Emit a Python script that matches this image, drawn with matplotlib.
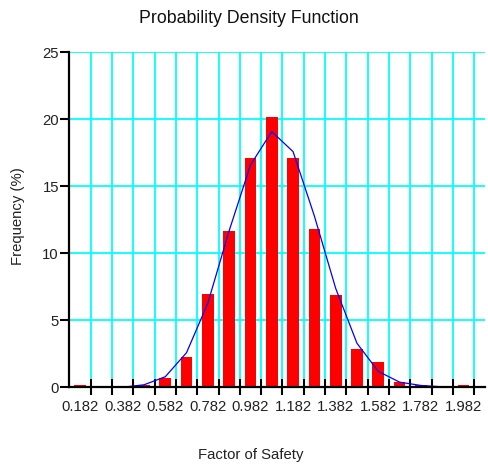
import numpy as np
import matplotlib.pyplot as plt
from matplotlib.ticker import FixedLocator

plt.rcParams['font.family'] = ['Liberation Sans', 'DejaVu Sans']

# histogram bins (centres) and frequencies in percent
bin_centers = [0.182, 0.282, 0.382, 0.482, 0.582, 0.682, 0.782, 0.882, 0.982, 1.082,
               1.182, 1.282, 1.382, 1.482, 1.582, 1.682, 1.782, 1.882, 1.982]
frequency = [0.15, 0.0, 0.0, 0.2, 0.7, 2.25, 6.95, 11.65, 17.1, 20.15,
             17.1, 11.85, 6.9, 2.9, 1.9, 0.43, 0.17, 0.0, 0.15]

# fitted density curve
curve_x = bin_centers + [2.082]
curve_y = [0.0, 0.0, 0.02, 0.2, 0.8, 2.6, 6.3, 11.7, 16.6, 19.1,
           17.6, 12.8, 7.4, 3.3, 1.2, 0.4, 0.15, 0.05, 0.02, 0.0]

x_labels = ["0.182", "0.382", "0.582", "0.782", "0.982",
            "1.182", "1.382", "1.582", "1.782", "1.982"]
bin_edges = [0.232, 0.332, 0.432, 0.532, 0.632, 0.732, 0.832, 0.932, 1.032, 1.132,
             1.232, 1.332, 1.432, 1.532, 1.632, 1.732, 1.832, 1.932, 2.032]

fig = plt.figure(figsize=(4.89, 4.65), dpi=100)
ax = fig.add_axes([0.1419, 0.1667, 0.8495, 0.7204])

ax.bar(bin_centers, frequency, width=0.055, color='#ff0000', zorder=2)
ax.plot(curve_x, curve_y, color='#0000ff', lw=0.9, zorder=3)

ax.set_xlim(0.132, 2.082)
ax.set_ylim(0, 25)

ax.set_xticks([float(s) for s in x_labels])
ax.set_xticklabels(x_labels)
ax.xaxis.set_minor_locator(FixedLocator(bin_edges))
ax.set_yticks([0, 5, 10, 15, 20, 25])

ax.grid(False)
ax.grid(True, which='minor', axis='x', color='#00ffff', lw=1.3, zorder=0)
ax.grid(True, which='major', axis='y', color='#00ffff', lw=1.3, zorder=0)
ax.set_axisbelow(True)

ax.tick_params(axis='x', which='major', length=0, pad=9, labelsize=10.7, colors='#222222')
ax.tick_params(axis='x', which='minor', direction='inout', length=11.5, width=1.5, color='black')
ax.tick_params(axis='y', which='major', direction='out', length=6.5, width=1.5,
               pad=1, labelsize=10.7, labelcolor='#222222', color='black')

for side in ['top', 'right']:
    ax.spines[side].set_visible(False)
for side in ['left', 'bottom']:
    ax.spines[side].set_linewidth(1.6)
    ax.spines[side].set_zorder(4)

fig.text(0.508, 0.961, "Probability Density Function", ha='center', va='center',
         fontsize=12.8, color='#111111')
fig.text(0.513, 0.021, "Factor of Safety", ha='center', va='center',
         fontsize=10.7, color='#222222')
fig.text(0.037, 0.535, "Frequency (%)", ha='center', va='center', rotation=90,
         fontsize=10.7, color='#222222')

fig.savefig("out.png", dpi=100)
